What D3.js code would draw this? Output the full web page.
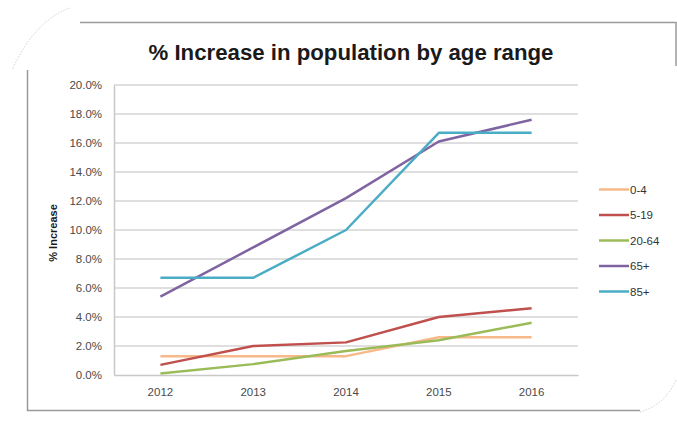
<!DOCTYPE html>
<html>
<head>
<meta charset="utf-8">
<script src="https://cdn.jsdelivr.net/npm/d3@7"></script>
<style>
  html, body { margin: 0; padding: 0; background: #fff; }
  svg { display: block; }
  text { font-family: "Liberation Sans", Arial, sans-serif; }
</style>
</head>
<body>
<svg id="chart" width="677" height="425"></svg>
<script>
const years = ["2012", "2013", "2014", "2015", "2016"];
const seriesNames = ["0-4", "5-19", "20-64", "65+", "85+"];
const values0_4   = [1.3, 1.3, 1.3, 2.6, 2.6];
const values5_19  = [0.7, 2.0, 2.25, 4.0, 4.6];
const values20_64 = [0.1, 0.75, 1.65, 2.4, 3.6];
const values65    = [5.4, 8.8, 12.2, 16.1, 17.6];
const values85    = [6.7, 6.7, 10.0, 16.7, 16.7];
const yTicks = [0, 2, 4, 6, 8, 10, 12, 14, 16, 18, 20];
const colors = ["#F7B88A", "#C0504D", "#9BBB59", "#8064A2", "#4BACC6"];

const series = [values0_4, values5_19, values20_64, values65, values85]
  .map((v, i) => ({ name: seriesNames[i], color: colors[i], values: v }));

const svg = d3.select("#chart");
const plot = { left: 114, right: 578, top: 85, bottom: 375 };

// Frame
const frame = svg.append("g").attr("fill", "none").attr("stroke", "#9a9a9a").attr("stroke-width", 1.5);
frame.append("path").attr("d", "M80,22.5 L676,22.5 L676,66");
frame.append("path").attr("d", "M27.5,70 L27.5,410.5 L640,410.5");
svg.append("path").attr("d", "M70,8 Q35,20 12,70").attr("fill", "none")
  .attr("stroke", "#d0d0d0").attr("stroke-width", 1).attr("stroke-dasharray", "1.5,1.5");
svg.append("path").attr("d", "M640,412 Q665,405 676,380").attr("fill", "none")
  .attr("stroke", "#d0d0d0").attr("stroke-width", 1).attr("stroke-dasharray", "1.5,1.5");

const x = d3.scaleBand().domain(years).range([plot.left, plot.right]);
const y = d3.scaleLinear().domain([0, 20]).range([plot.bottom, plot.top]);

// Gridlines
svg.append("g").selectAll("line").data(yTicks.filter(d => d > 0)).join("line")
  .attr("x1", plot.left).attr("x2", plot.right)
  .attr("y1", d => y(d)).attr("y2", d => y(d))
  .attr("stroke", "#d4d4d4").attr("stroke-width", 1.5);

// Y axis
const yAxis = svg.append("g").attr("transform", `translate(${plot.left},0)`)
  .call(d3.axisLeft(y).tickValues(yTicks).tickSize(0).tickPadding(12).tickFormat(d => d.toFixed(1) + "%"));
yAxis.select(".domain").attr("stroke", "#c8c8c8").attr("stroke-width", 1.5);
yAxis.selectAll("text").attr("font-size", 11.5).attr("fill", "#4a4a4a")
  .attr("font-family", "'Liberation Sans', Arial, sans-serif");

// X axis
const xAxis = svg.append("g").attr("transform", `translate(0,${plot.bottom})`)
  .call(d3.axisBottom(x).tickSize(0).tickPadding(13));
xAxis.select(".domain").attr("stroke", "#c8c8c8").attr("stroke-width", 1.5);
xAxis.selectAll("text").attr("font-size", 11.5).attr("fill", "#4a4a4a")
  .attr("font-family", "'Liberation Sans', Arial, sans-serif");

// Lines
const line = d3.line().x((d, i) => x(years[i]) + x.bandwidth() / 2).y(d => y(d));
svg.append("g").selectAll("path").data(series).join("path")
  .attr("d", d => line(d.values))
  .attr("fill", "none").attr("stroke", d => d.color)
  .attr("stroke-width", 2.5).attr("stroke-linejoin", "round");

// Title
const title = svg.append("text").attr("x", 351).attr("y", 60).attr("text-anchor", "middle")
  .attr("font-family", "'Liberation Sans Narrow', 'Liberation Sans', Arial, sans-serif")
  .attr("font-size", 22).attr("font-weight", "bold").attr("fill", "#1a1a1a")
  .text("% Increase in population by age range");
const tw = title.node().getComputedTextLength();
title.attr("font-size", Math.min(25, 22 * 405 / tw));

// Y label
svg.append("text").attr("transform", "translate(57,233) rotate(-90)")
  .attr("text-anchor", "middle").attr("font-size", 11).attr("font-weight", "bold")
  .attr("fill", "#1a1a1a").text("% Increase");

// Legend
const legend = svg.append("g").selectAll("g").data(series).join("g")
  .attr("transform", (d, i) => `translate(599,${189.5 + i * 25.5})`);
legend.append("line").attr("x1", 0).attr("x2", 30).attr("y1", 0).attr("y2", 0)
  .attr("stroke", d => d.color).attr("stroke-width", 2.5);
legend.append("text").attr("x", 31).attr("y", 4).attr("font-size", 11.5).attr("fill", "#333")
  .text(d => d.name);
</script>
</body>
</html>
